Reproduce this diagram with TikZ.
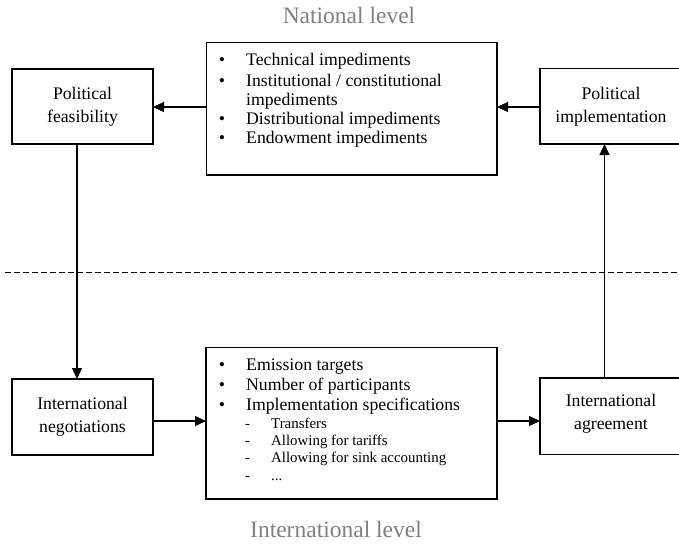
\documentclass[tikz,border=0pt]{standalone}
\usepackage{fontspec}
\setmainfont{Liberation Serif}
\usetikzlibrary{arrows.meta}
\begin{document}
\begin{tikzpicture}[x=1pt,y=-1pt,
  box/.style={draw,line width=1.2pt,inner sep=0pt,outer sep=0pt},
  lab/.style={font=\fontsize{17.7}{22}\selectfont,anchor=base,inner sep=0pt},
  item/.style={font=\fontsize{17.7}{22}\selectfont,anchor=base west,inner sep=0pt},
  subitem/.style={font=\fontsize{14.9}{18}\selectfont,anchor=base west,inner sep=0pt},
  bul/.style={font=\fontsize{17.7}{22}\selectfont,anchor=base,inner sep=0pt},
  level/.style={font=\fontsize{23.5}{28}\selectfont,text=black!50,anchor=base,inner sep=0pt},
  arr/.style={line width=1.2pt,-{Triangle[length=11pt,width=10pt]}},
  sep/.style={line width=1pt,dash pattern=on 6pt off 3pt},
]
\useasboundingbox (0,0) rectangle (679,544);

% boxes
\node[box,minimum width=141pt,minimum height=75pt] (feas) at (82.5,106.5) {};
\node[box,minimum width=290.5pt,minimum height=132.5pt] (top) at (351.75,108.75) {};
\node[box,minimum width=150pt,minimum height=75.5pt] (impl) at (615,106.25) {};
\node[box,minimum width=141pt,minimum height=76pt] (neg) at (82.5,417) {};
\node[box,minimum width=291pt,minimum height=151.5pt] (bot) at (351.5,423.25) {};
\node[box,minimum width=150pt,minimum height=76.5pt] (agr) at (615,416.25) {};

% level labels
\node[level] (natl) at (349,23) {National level};
\node[level] (intl) at (336,537) {International level};

% side box texts
\node[lab] (feas1) at (82.5,99) {Political};
\node[lab] (feas2) at (82.5,122) {feasibility};
\node[lab] (impl1) at (611,99) {Political};
\node[lab] (impl2) at (611,122) {implementation};
\node[lab] (neg1) at (82.5,409) {International};
\node[lab] (neg2) at (82.5,432) {negotiations};
\node[lab] (agr1) at (611,406) {International};
\node[lab] (agr2) at (611,429) {agreement};

% top box items
\node[bul] (tb1) at (222,65) {\textbullet};
\node[item] (ti1) at (246,65) {Technical impediments};
\node[bul] (tb2) at (222,86) {\textbullet};
\node[item] (ti2) at (246,86) {Institutional / constitutional};
\node[item] (ti2b) at (246,105) {impediments};
\node[bul] (tb3) at (222,124) {\textbullet};
\node[item] (ti3) at (246,124) {Distributional impediments};
\node[bul] (tb4) at (222,143) {\textbullet};
\node[item] (ti4) at (246,143) {Endowment impediments};

% bottom box items
\node[bul] (bb1) at (222,370) {\textbullet};
\node[item] (bi1) at (246,370) {Emission targets};
\node[bul] (bb2) at (222,390) {\textbullet};
\node[item] (bi2) at (246,390) {Number of participants};
\node[bul] (bb3) at (222,410) {\textbullet};
\node[item] (bi3) at (246,410) {Implementation specifications};
\node[subitem] (bd1) at (245,428) {-};
\node[subitem] (bs1) at (271,428) {Transfers};
\node[subitem] (bd2) at (245,445) {-};
\node[subitem] (bs2) at (271,445) {Allowing for tariffs};
\node[subitem] (bd3) at (245,462) {-};
\node[subitem] (bs3) at (271,462) {Allowing for sink accounting};
\node[subitem] (bd4) at (245,480) {-};
\node[subitem] (bs4) at (271,480) {...};

% helper coordinates
\coordinate (ty) at (0,107);
\coordinate (by) at (0,421);
\coordinate (lx) at (77,0);
\coordinate (rx) at (604.5,0);
\coordinate (d1) at (5,272.5);
\coordinate (d2) at (679,272.5);

% connectors
\draw[arr] (top.west |- ty) -- (feas.east |- ty);
\draw[arr] (impl.west |- ty) -- (top.east |- ty);
\draw[arr] (neg.east |- by) -- (bot.west |- by);
\draw[arr] (bot.east |- by) -- (agr.west |- by);
\draw[arr] (feas.south -| lx) -- (neg.north -| lx);
\draw[arr] (agr.north -| rx) -- (impl.south -| rx);

% separator
\draw[sep] (d1) -- (d2);
\end{tikzpicture}
\end{document}
